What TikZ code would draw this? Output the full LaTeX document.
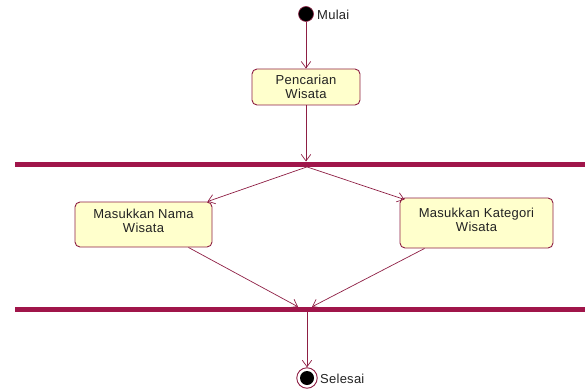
\documentclass[tikz,border=0pt]{standalone}
\usepackage{fontspec}
\setmainfont{Liberation Sans}
\usetikzlibrary{arrows.meta}
\definecolor{umlline}{HTML}{8E1F44}
\definecolor{umlbar}{HTML}{A0154A}
\definecolor{umlfill}{HTML}{FFFFCC}
\definecolor{umltext}{HTML}{222222}
\newcommand{\umlfont}{\fontsize{13}{14.5}\selectfont\addfontfeatures{LetterSpace=2}}
\tikzset{
  activity/.style={draw=umlline, fill=umlfill, rounded corners=5pt, line width=0.9pt,
    align=center, inner sep=0pt, text=umltext, font=\umlfont},
  syncbar/.style={fill=umlbar, inner sep=0pt, minimum height=5pt},
  flow/.style={draw=umlline, line width=0.7pt, -{Straight Barb[length=6.5pt,width=9.5pt]}},
  lbl/.style={font=\umlfont, text=umltext, inner sep=0pt, anchor=west},
}
\begin{document}
\begin{tikzpicture}[x=1pt, y=-1pt]
  \useasboundingbox (0,0) rectangle (585,390);

  % start and end states
  \node[circle, fill=black, draw=umlline, line width=0.6pt, minimum size=15pt, inner sep=0pt] (start) at (306,14) {};
  \node[lbl] (startlbl) at (317,15) {Mulai};
  \node[circle, draw=umlline, fill=white, line width=0.9pt, minimum size=20.5pt, inner sep=0pt] (end) at (307,378) {};
  \node[circle, fill=black, minimum size=14pt, inner sep=0pt] (endcore) at (end.center) {};
  \node[lbl] (endlbl) at (320,379) {Selesai};

  % activities
  \node[activity, minimum width=108pt, minimum height=36pt] (search) at (306,87) {Pencarian\\Wisata};
  \node[activity, minimum width=137pt, minimum height=45pt] (byname) at (143.5,224.5) {};
  \node[align=center, text=umltext, font=\umlfont, inner sep=0pt] (bynametxt) at (143.5,221) {Masukkan Nama\\Wisata};
  \node[activity, minimum width=153pt, minimum height=50pt] (bycat) at (476.5,223) {};
  \node[align=center, text=umltext, font=\umlfont, inner sep=0pt] (bycattxt) at (476.5,220) {Masukkan Kategori\\Wisata};

  % fork and join bars
  \node[syncbar, minimum width=570pt] (fork) at (300,164.2) {};
  \node[syncbar, minimum width=570pt] (join) at (300,309.5) {};

  % control flows
  \draw[flow] (start) -- (search.north -| start);
  \draw[flow] (search.south -| start) -- (fork.north -| start);
  \coordinate (forkout) at (fork.south -| end);
  \draw[flow] (forkout) -- ([xshift=-5pt]byname.north east);
  \draw[flow] (forkout) -- ([xshift=5pt,yshift=-2pt]bycat.north west);
  \draw[flow] ([xshift=-24pt]byname.south east) -- ([xshift=-9pt]join.north -| end);
  \draw[flow] ([xshift=25pt]bycat.south west) -- ([xshift=5pt]join.north -| end);
  \draw[flow] (join.south -| end) -- (end.north);
\end{tikzpicture}
\end{document}
